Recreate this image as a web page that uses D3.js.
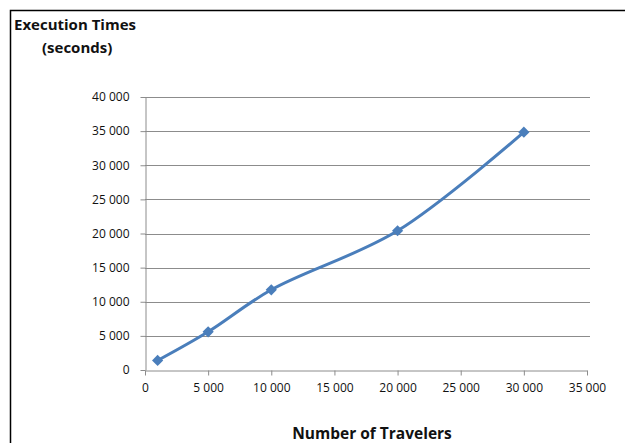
<!DOCTYPE html>
<html>
<head>
<meta charset="utf-8">
<script src="https://cdn.jsdelivr.net/npm/d3@7"></script>
<style>
  body { margin: 0; background: #fff; }
  text { font-family: "Open Sans", Lato, sans-serif; fill: #111; }
</style>
</head>
<body>
<script>
const width = 625;
const height = 443;

// data
const travelers = [1000, 5000, 10000, 20000, 30000];
const seconds = [1400, 5600, 11750, 20400, 34850];
const xTicks = [0, 5000, 10000, 15000, 20000, 25000, 30000, 35000];
const yTicks = [0, 5000, 10000, 15000, 20000, 25000, 30000, 35000, 40000];

const svg = d3.select(document.body).append("svg")
    .attr("width", width)
    .attr("height", height);

// outer frame (only left & top visible)
svg.append("path")
    .attr("d", "M10.5,443 L10.5,10.5 L625,10.5")
    .attr("fill", "none")
    .attr("stroke", "#000")
    .attr("stroke-width", 1.5);

const x = d3.scaleLinear().domain([0, 35000]).range([145, 587]);
const y = d3.scaleLinear().domain([0, 40000]).range([370, 97]);
const fmt = d => d3.format(",")(d).replace(",", " ");

// gridlines
svg.append("g")
    .selectAll("line")
    .data(yTicks.slice(1))
    .join("line")
    .attr("x1", x(0)).attr("x2", 590)
    .attr("y1", d => Math.round(y(d)) + 0.5)
    .attr("y2", d => Math.round(y(d)) + 0.5)
    .attr("stroke", "#8c8c8c");

// y axis
const yAxis = svg.append("g")
    .attr("transform", `translate(${x(0) + 0.5},0)`)
    .call(d3.axisLeft(y).tickValues(yTicks).tickFormat(fmt).tickSize(5).tickSizeOuter(0).tickPadding(11));
yAxis.select(".domain").attr("stroke", "#8c8c8c");
yAxis.selectAll(".tick line").attr("stroke", "#8c8c8c");
yAxis.selectAll("text").style("font-size", "12px").attr("fill", "#1a1a1a");

// x axis
const xAxis = svg.append("g")
    .attr("transform", `translate(0,${Math.round(y(0)) + 0.5})`)
    .call(d3.axisBottom(x).tickValues(xTicks).tickFormat(fmt).tickSize(5).tickSizeOuter(0).tickPadding(8));
xAxis.select(".domain").attr("stroke", "#8c8c8c");
xAxis.selectAll(".tick line").attr("stroke", "#8c8c8c");
xAxis.selectAll("text").style("font-size", "12px").attr("fill", "#1a1a1a");

// smoothed line
const pts = travelers.map((t, i) => [t, seconds[i]]);
svg.append("path")
    .datum(pts)
    .attr("fill", "none")
    .attr("stroke", "#4a7ebb")
    .attr("stroke-width", 3)
    .attr("d", d3.line().x(d => x(d[0])).y(d => y(d[1])).curve(d3.curveCatmullRom.alpha(0.5)));

// diamond markers
svg.append("g")
    .selectAll("path")
    .data(pts)
    .join("path")
    .attr("transform", d => `translate(${x(d[0])},${y(d[1])})`)
    .attr("d", d3.symbol(d3.symbolDiamond2, 80))
    .attr("fill", "#4a7ebb");

// titles
svg.append("text")
    .attr("x", 14).attr("y", 30)
    .style("font-size", "15px").style("font-weight", "bold")
    .text("Execution Times");
svg.append("text")
    .attr("x", 42).attr("y", 53)
    .style("font-size", "15px").style("font-weight", "bold")
    .text("(seconds)");
svg.append("text")
    .attr("x", 372).attr("y", 439)
    .attr("text-anchor", "middle")
    .style("font-size", "15.5px").style("font-weight", "bold")
    .text("Number of Travelers");
</script>
</body>
</html>
